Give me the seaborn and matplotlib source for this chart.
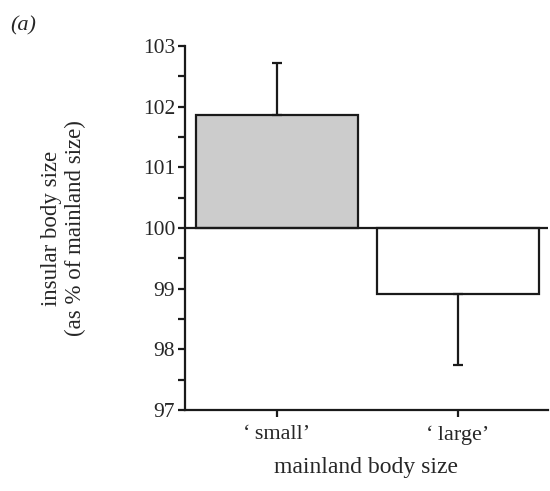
import numpy as np
import pandas as pd
import matplotlib
matplotlib.use("Agg")
import matplotlib.pyplot as plt
import seaborn as sns
from matplotlib.ticker import MultipleLocator

# data
categories = ["\u2018\u2009small\u2019", "\u2018\u2009large\u2019"]
means = [101.86, 98.91]
err_up = [0.86, 0.0]
err_down = [0.0, 1.17]
baseline = 100
bar_colors = ["#cccccc", "#ffffff"]

df = pd.DataFrame({"size": categories, "diff": np.array(means) - baseline})

sns.set_theme(style="white")
plt.rcParams["font.family"] = ["Liberation Serif", "DejaVu Serif"]

fig = plt.figure(figsize=(5.5, 4.91), dpi=100)
ax = fig.add_axes([0.336, 0.165, 0.66, 0.741])

sns.barplot(data=df, x="size", y="diff", hue="size", palette=bar_colors,
            legend=False, bottom=baseline, width=0.895,
            edgecolor="#1a1a1a", linewidth=1.6, ax=ax)

ax.errorbar(x=range(len(categories)), y=means, yerr=[err_down, err_up],
            fmt="none", ecolor="#1a1a1a", elinewidth=1.6, capsize=3.6,
            capthick=1.6)

ax.axhline(baseline, color="#1a1a1a", lw=1.6, zorder=3)

ax.set_ylim(97, 103)
ax.set_xlim(-0.508, 1.497)
ax.yaxis.set_major_locator(MultipleLocator(1))
ax.yaxis.set_minor_locator(MultipleLocator(0.5))

for s in ["top", "right"]:
    ax.spines[s].set_visible(False)
for s in ["left", "bottom"]:
    ax.spines[s].set_color("#1a1a1a")
    ax.spines[s].set_linewidth(1.6)

ax.tick_params(axis="y", which="both", direction="out", left=True,
               length=5, width=1.6, color="#1a1a1a", labelsize=15.5, pad=2)
ax.tick_params(axis="x", direction="out", bottom=True, length=5, width=1.6,
               color="#1a1a1a", labelsize=16, pad=6)

ax.set_xlabel("mainland body size", fontsize=17, labelpad=9)
ax.set_ylabel("insular body size\n(as % of mainland size)", fontsize=16.5,
              linespacing=1.15)
ax.yaxis.set_label_coords(-0.272, 0.5)

fig.text(0.018, 0.947, "(a)", fontsize=16, style="italic", va="center")

fig.savefig("out.png", dpi=100)
